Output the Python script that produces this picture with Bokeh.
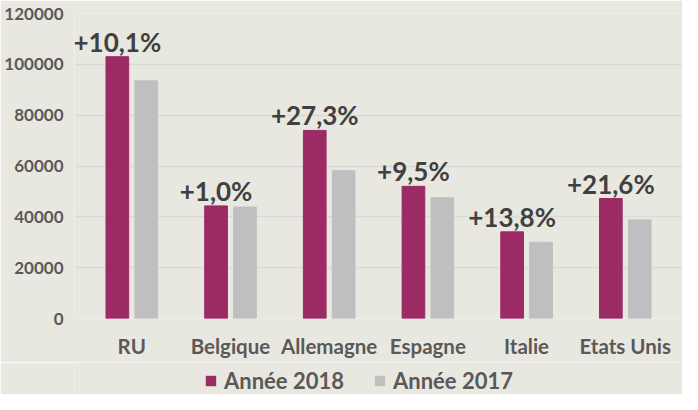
from bokeh.plotting import figure
from bokeh.layouts import column
from bokeh.models import (ColumnDataSource, FactorRange, Range1d, FixedTicker, Legend,
                          LegendItem, NumeralTickFormatter)
from bokeh.transform import dodge
from bokeh.core.properties import value
from bokeh.embed import file_html
from bokeh.resources import INLINE

categories = ["RU", "Belgique", "Allemagne", "Espagne", "Italie", "Etats Unis"]
v2018 = [103000, 44300, 74000, 52000, 34100, 47200]
v2017 = [93500, 43850, 58150, 47500, 30000, 38800]
growth = ["+10,1%", "+1,0%", "+27,3%", "+9,5%", "+13,8%", "+21,6%"]
y_ticks = [0, 20000, 40000, 60000, 80000, 100000, 120000]
series_names = ["Année 2018", "Année 2017"]

BG = "#E9E8E0"
C2018 = "#9B2A65"
C2017 = "#BFBFBF"

src = ColumnDataSource(dict(cat=categories, v2018=v2018, v2017=v2017, growth=growth))

xr = FactorRange(*categories)
xr.range_padding = 0.0267
p = figure(width=682, height=362, x_range=xr,
           y_range=Range1d(0, 120000), output_backend="svg", toolbar_location=None,
           min_border_left=74, min_border_right=0, min_border_top=13, min_border_bottom=44)
p.background_fill_color = BG
p.border_fill_color = BG
p.outline_line_color = None

r18 = p.vbar(x=dodge("cat", -0.146, range=p.x_range), top="v2018", width=0.23,
             source=src, fill_color=C2018, line_color=C2018)
r17 = p.vbar(x=dodge("cat", 0.147, range=p.x_range), top="v2017", width=0.23,
             source=src, fill_color=C2017, line_color=C2017)

p.text(x=dodge("cat", -0.146, range=p.x_range), y="v2018", text="growth", source=src,
       text_font=value("Lato"), text_font_style="bold", text_font_size="26px",
       text_color="#404040", text_align="center", text_baseline="alphabetic", y_offset=-15)

p.yaxis.ticker = FixedTicker(ticks=y_ticks)
p.yaxis.formatter = NumeralTickFormatter(format="0")
p.yaxis.axis_line_color = None
p.yaxis.major_tick_line_color = None
p.yaxis.minor_tick_line_color = None
p.yaxis.major_tick_out = 0
p.yaxis.major_label_standoff = 11
p.yaxis.major_label_text_font = "Lato"
p.yaxis.major_label_text_font_style = "bold"
p.yaxis.major_label_text_font_size = "17px"
p.yaxis.major_label_text_color = "#595959"

p.xaxis.axis_line_color = None
p.xaxis.major_tick_line_color = None
p.xaxis.major_tick_out = 0
p.xaxis.major_label_standoff = 15
p.xaxis.major_label_text_font = "Lato"
p.xaxis.major_label_text_font_style = "bold"
p.xaxis.major_label_text_font_size = "20.5px"
p.xaxis.major_label_text_color = "#595959"

p.xgrid.grid_line_color = None
p.ygrid.grid_line_color = "#D9D9D9"
p.ygrid.grid_line_width = 1.5

# legend strip below the chart (its frame is aligned with the chart frame by the column)
lf = figure(width=682, height=32, x_range=Range1d(0, 1), y_range=Range1d(0, 1),
            output_backend="svg", toolbar_location=None, min_border=0)
lf.background_fill_color = BG
lf.border_fill_color = BG
lf.outline_line_color = None
lf.axis.visible = False
lf.grid.visible = False
lsrc = ColumnDataSource(dict(x=[0.5], top=[0]))
lr18 = lf.vbar(x="x", top="top", width=0, source=lsrc, fill_color=C2018, line_alpha=0)
lr17 = lf.vbar(x="x", top="top", width=0, source=lsrc, fill_color=C2017, line_alpha=0)

legend = Legend(items=[LegendItem(label=series_names[0], renderers=[lr18]),
                       LegendItem(label=series_names[1], renderers=[lr17])],
                orientation="horizontal", location=(130, 0),
                glyph_width=13, glyph_height=13, label_standoff=7, spacing=29,
                padding=0, margin=0, border_line_color=None, background_fill_alpha=0,
                label_text_font="Lato", label_text_font_style="bold",
                label_text_font_size="22px", label_text_color="#595959")
lf.add_layout(legend, "center")

layout = column(p, lf, spacing=0)
open("out.html", "w").write(file_html(layout, INLINE))
